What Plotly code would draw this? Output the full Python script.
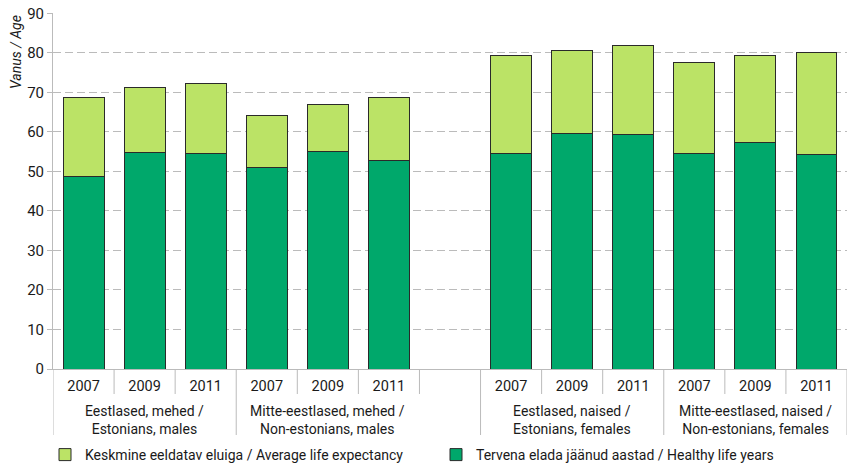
import plotly.graph_objects as go

years = ["2007", "2009", "2011"]
groups = [
    "Eestlased, mehed /<br>Estonians, males",
    "Mitte-eestlased, mehed /<br>Non-estonians, males",
    "Eestlased, naised /<br>Estonians, females",
    "Mitte-eestlased, naised /<br>Non-estonians, females",
]
life_expectancy = [68.8, 71.2, 72.2, 64.1, 67.0, 68.7, 79.3, 80.6, 81.8, 77.5, 79.3, 80.0]
healthy_years = [48.8, 54.7, 54.6, 50.9, 55.1, 52.8, 54.6, 59.7, 59.4, 54.6, 57.2, 54.3]

name_le = "Keskmine eeldatav eluiga / Average life expectancy"
name_hy = "Tervena elada jäänud aastad / Healthy life years"

# x positions: 3 bars per group, one empty slot between males and females
xpos = []
for g in range(4):
    for k in range(3):
        xpos.append(g * 3 + k + (1 if g >= 2 else 0))
remainder = [round(t - h, 2) for t, h in zip(life_expectancy, healthy_years)]

DARK = "#00a86b"
LIGHT = "#bbe366"
FONT = "Roboto"
TXT = "#1a1a1a"

fig = go.Figure()
fig.add_trace(go.Bar(x=xpos, y=healthy_years, name=name_hy,
                     marker=dict(color=DARK, line=dict(color="#2a2a2a", width=1))))
fig.add_trace(go.Bar(x=xpos, y=remainder, name=name_le,
                     marker=dict(color=LIGHT, line=dict(color="#2a2a2a", width=1))))

plot_h = 356.0
plot_w = 794.0
def py(px):
    return -px / plot_h

shapes = []
long_div = [-0.5, 2.5, 6.5, 9.5, 12.5]
short_div = [0.5, 1.5, 3.5, 4.5, 5.5, 7.5, 8.5, 10.5, 11.5]
for xv in long_div:
    shapes.append(dict(type="line", xref="x", yref="paper", x0=xv, x1=xv, y0=0, y1=py(66),
                       line=dict(color="#bbbbbb", width=1)))
for xv in short_div:
    shapes.append(dict(type="line", xref="x", yref="paper", x0=xv, x1=xv, y0=0, y1=py(25),
                       line=dict(color="#bbbbbb", width=1)))

annotations = []
group_centers = [1, 4, 8, 11]
for gc, lab in zip(group_centers, groups):
    annotations.append(dict(x=gc, y=py(32), xref="x", yref="paper", text=lab, showarrow=False,
                            xanchor="center", yanchor="top",
                            font=dict(family=FONT, size=14, color=TXT)))
annotations.append(dict(x=-37 / plot_w, y=1.0, xref="paper", yref="paper", text="<i>Vanus / Age</i>",
                        textangle=-90, showarrow=False, xanchor="center", yanchor="top",
                        font=dict(family=FONT, size=14, color=TXT)))

tickvals = xpos
ticktext = years * 4

fig.update_layout(
    width=847, height=464,
    margin=dict(l=53, r=0, t=13, b=95, autoexpand=False),
    barmode="stack", bargap=0.33,
    plot_bgcolor="white", paper_bgcolor="white",
    font=dict(family=FONT, size=14, color=TXT),
    showlegend=True,
    legend=dict(orientation="h", x=-8 / plot_w, xanchor="left", y=py(70), yanchor="top",
                traceorder="reversed", entrywidth=346, entrywidthmode="pixels",
                font=dict(family=FONT, size=14, color=TXT)),
    xaxis=dict(range=[-0.5, 12.5], tickvals=tickvals, ticktext=ticktext, showgrid=False,
               zeroline=False, showline=True, linecolor="#bbbbbb", linewidth=1, ticks="",
               ticklabelstandoff=4, automargin=False,
               tickfont=dict(family=FONT, size=14.5, color=TXT)),
    yaxis=dict(range=[0, 90.08], tickvals=list(range(0, 91, 10)), showgrid=True, gridcolor="#bbbbbb",
               griddash="8px,4px", gridwidth=1, zeroline=False, showline=True, linecolor="#bbbbbb",
               linewidth=1, ticks="outside", ticklen=5, tickcolor="#bbbbbb", automargin=False,
               ticklabeloverflow="allow",
               tickfont=dict(family=FONT, size=15, color=TXT)),
    shapes=shapes, annotations=annotations,
)

fig.write_html("out.html", config={"displayModeBar": False},
               post_script="document.body.style.margin='0';")
